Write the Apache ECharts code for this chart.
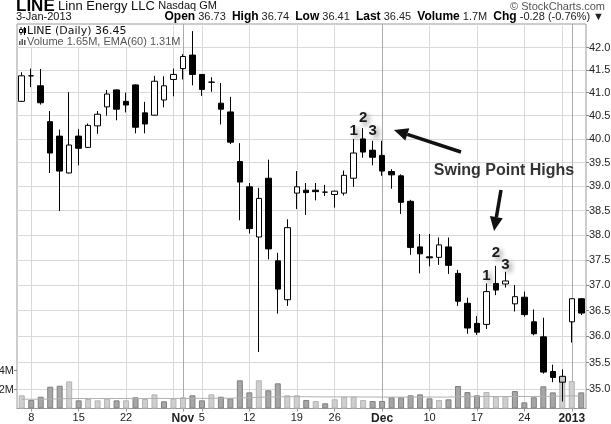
<!DOCTYPE html>
<html>
<head>
<meta charset="utf-8">
<script src="https://cdn.jsdelivr.net/npm/echarts@6/dist/echarts.min.js"></script>
<style>
  html, body { margin: 0; padding: 0; background: #fff; }
  #chart { width: 611px; height: 424px; }
</style>
</head>
<body>
<div id="chart"></div>
<script>
// LINE daily, 5 Oct 2012 - 3 Jan 2013
const dates = [
  '2012-10-05', '2012-10-08', '2012-10-09', '2012-10-10', '2012-10-11', '2012-10-12',
  '2012-10-15', '2012-10-16', '2012-10-17', '2012-10-18', '2012-10-19',
  '2012-10-22', '2012-10-23', '2012-10-24', '2012-10-25', '2012-10-26', '2012-10-31',
  '2012-11-01', '2012-11-02', '2012-11-05', '2012-11-06', '2012-11-07', '2012-11-08', '2012-11-09',
  '2012-11-12', '2012-11-13', '2012-11-14', '2012-11-15', '2012-11-16',
  '2012-11-19', '2012-11-20', '2012-11-21', '2012-11-23',
  '2012-11-26', '2012-11-27', '2012-11-28', '2012-11-29', '2012-11-30',
  '2012-12-03', '2012-12-04', '2012-12-05', '2012-12-06', '2012-12-07',
  '2012-12-10', '2012-12-11', '2012-12-12', '2012-12-13', '2012-12-14',
  '2012-12-17', '2012-12-18', '2012-12-19', '2012-12-20', '2012-12-21',
  '2012-12-24', '2012-12-26', '2012-12-27', '2012-12-28', '2012-12-31',
  '2013-01-02', '2013-01-03'
]
const open = [
  40.81, 41.37, 41.15, 40.37, 40.06, 39.28, 40.06, 39.82, 40.28, 40.69, 41.06,
  40.81, 41.17, 40.56, 40.51, 40.84, 41.29, 41.53, 41.83, 41.40, 41.23, 40.77, 40.58, 39.52,
  38.99, 37.96, 39.17, 37.48, 36.71, 38.86, 38.92, 38.92, 38.88,
  38.83, 38.86, 39.17, 40.00, 39.76, 39.65, 39.31, 39.22, 38.69, 37.76,
  37.56, 37.55, 37.76, 37.23, 36.64, 36.25, 36.23, 37.03, 37.02, 36.63,
  36.76, 36.28, 35.99, 35.33, 35.13, 36.28, 36.73
]
const close = [
  41.37, 41.37, 40.78, 39.70, 39.32, 39.87, 39.80, 40.29, 40.53, 40.97, 40.64,
  40.73, 40.25, 40.32, 41.25, 41.15, 41.40, 41.80, 41.40, 41.07, 41.23, 40.64, 39.93, 39.09,
  38.13, 38.75, 37.72, 36.92, 38.15, 38.99, 38.87, 38.89, 38.88,
  38.90, 39.23, 39.70, 39.72, 39.61, 39.32, 39.24, 38.67, 37.75, 37.62,
  37.54, 37.80, 37.39, 36.68, 36.16, 36.08, 36.87, 36.90, 37.08, 36.77,
  36.42, 36.05, 35.32, 35.22, 35.24, 36.73, 36.45
]
const low = [
  40.80, 41.12, 40.74, 39.28, 38.49, 39.27, 39.44, 39.81, 40.11, 40.50, 40.40,
  40.57, 40.12, 40.12, 40.50, 40.68, 40.92, 41.29, 41.16, 40.93, 41.02, 40.31, 39.89, 38.30,
  38.03, 35.70, 37.51, 36.44, 36.59, 38.53, 38.41, 38.71, 38.80,
  38.56, 38.81, 38.99, 39.60, 39.44, 39.22, 38.95, 38.43, 37.60, 37.23,
  37.37, 37.40, 37.22, 36.59, 36.05, 36.03, 36.14, 36.80, 36.95, 36.48,
  36.38, 36.02, 35.29, 35.13, 34.77, 35.88, 36.41
]
const high = [
  41.45, 41.53, 41.52, 40.60, 40.20, 41.01, 40.21, 40.33, 40.60, 41.06, 41.07,
  41.00, 41.18, 40.80, 41.37, 41.36, 41.53, 41.85, 42.37, 41.41, 41.34, 41.21, 40.91, 39.91,
  39.07, 38.97, 39.56, 37.64, 38.32, 39.32, 39.07, 39.07, 39.03,
  38.91, 39.33, 40.00, 40.23, 39.96, 39.96, 39.36, 39.25, 38.72, 38.02,
  38.02, 37.95, 37.95, 37.30, 36.75, 36.39, 37.03, 37.38, 37.26, 37.00,
  36.87, 36.52, 36.36, 35.46, 35.37, 36.74, 36.74
]
// volume in millions of shares
const volume = [
  1.39, 0.90, 1.24, 2.30, 2.40, 2.86, 0.86, 1.00, 0.86, 1.03, 0.86,
  0.86, 1.18, 1.00, 1.49, 0.76, 1.03, 1.18, 1.39, 0.86, 1.49, 1.24, 1.07, 2.97,
  1.70, 2.97, 1.92, 2.65, 1.39, 1.39, 0.90, 0.79, 0.55,
  0.97, 1.24, 1.24, 0.90, 0.79, 0.79, 1.18, 1.18, 1.39, 1.49,
  1.07, 0.90, 0.97, 2.37, 1.74, 1.39, 1.74, 1.28, 1.28, 1.84,
  0.65, 1.18, 2.34, 1.70, 3.35, 2.90, 1.70
]
const volumeEma = [
  0.98, 0.98, 0.98, 1.00, 1.02, 1.05, 1.05, 1.05, 1.05, 1.05, 1.05,
  1.05, 1.05, 1.05, 1.06, 1.06, 1.06, 1.06, 1.07, 1.07, 1.07, 1.08, 1.08, 1.12,
  1.14, 1.18, 1.20, 1.23, 1.24, 1.24, 1.24, 1.23, 1.22,
  1.22, 1.22, 1.22, 1.21, 1.21, 1.20, 1.20, 1.20, 1.20, 1.21,
  1.21, 1.20, 1.20, 1.24, 1.25, 1.25, 1.26, 1.26, 1.26, 1.27,
  1.26, 1.26, 1.27, 1.28, 1.31, 1.33, 1.31
]

const priceMin = 34.64
const priceMax = 42.53
const priceTicks = [35.0, 35.5, 36.0, 36.5, 37.0, 37.5, 38.0, 38.5, 39.0, 39.5, 40.0, 40.5, 41.0, 41.5, 42.0]
const volumeMax = 40.5
const volumeTicks = [2, 4]

const labelDates = ['2012-10-08', '2012-10-15', '2012-10-22', '2012-11-01', '2012-11-05', '2012-11-12',
  '2012-11-19', '2012-11-26', '2012-12-03', '2012-12-10', '2012-12-17', '2012-12-24', '2013-01-02']
const labelText = ['8', '15', '22', 'Nov', '5', '12', '19', '26', 'Dec', '10', '17', '24', '2013']
const monthLabels = ['Nov', 'Dec', '2013']
const weekStarts = ['2012-10-08', '2012-10-15', '2012-10-22', '2012-10-31', '2012-11-05', '2012-11-12',
  '2012-11-19', '2012-11-26', '2012-12-10', '2012-12-17', '2012-12-24', '2012-12-31']
const monthStarts = ['2012-11-01', '2012-12-03', '2013-01-02']
const grayCandleDate = '2012-12-31'

const swingDates = ['2012-11-28', '2012-11-29', '2012-11-30', '2012-12-18', '2012-12-19', '2012-12-20']
const swingText = ['1', '2', '3', '1', '2', '3']

const FONT = '"Liberation Sans", Arial, sans-serif'
const ln = Math.log

const candleData = dates.map((d, i) => {
  const item = { value: [ln(open[i]), ln(close[i]), ln(low[i]), ln(high[i])] }
  if (d === grayCandleDate) item.itemStyle = { color: '#c4c4c4', color0: '#c4c4c4' }
  return item
})

const volumeData = dates.map((d, i) => {
  const up = i === 0 || close[i] > close[i - 1]
  return {
    value: volume[i],
    itemStyle: up
      ? { color: '#cfcfcf', borderColor: '#b3b3b3', borderWidth: 1 }
      : { color: '#a6a6a6', borderColor: '#808080', borderWidth: 1 }
  }
})

function arrow (x1, y1, x2, y2) {
  const len = Math.hypot(x2 - x1, y2 - y1)
  const dx = (x2 - x1) / len
  const dy = (y2 - y1) / len
  const bx = x2 - dx * 14
  const by = y2 - dy * 14
  return [
    { type: 'line', shape: { x1: x1, y1: y1, x2: bx, y2: by }, style: { stroke: '#111', lineWidth: 3.5 }, z: 50 },
    {
      type: 'polygon',
      shape: { points: [[x2, y2], [bx - dy * 6.5, by + dx * 6.5], [bx + dy * 6.5, by - dx * 6.5]] },
      style: { fill: '#111' },
      z: 50
    }
  ]
}

function txt (x, y, text, font, fill, align) {
  return {
    type: 'text', x: x, y: y, z: 50,
    style: { text: text, font: font, fill: fill, align: align || 'left', textAlign: align || 'left', verticalAlign: 'middle', textVerticalAlign: 'middle' }
  }
}

const chart = echarts.init(document.getElementById('chart'))

chart.setOption({
  animation: false,
  backgroundColor: '#fff',
  textStyle: { fontFamily: FONT },
  grid: {
    left: 17, right: 25, top: 24, bottom: 15.5,
    show: true, borderColor: '#9a9a9a', borderWidth: 1,
    outerBoundsMode: 'none'
  },
  xAxis: [
    {
      type: 'category',
      data: dates,
      boundaryGap: true,
      axisLine: { lineStyle: { color: '#9a9a9a' } },
      axisTick: {
        show: true, alignWithLabel: true, length: 3,
        interval: (i, v) => labelDates.includes(v),
        lineStyle: { color: '#999' }
      },
      axisLabel: {
        interval: (i, v) => labelDates.includes(v),
        formatter: v => {
          const t = labelText[labelDates.indexOf(v)]
          return monthLabels.includes(t) ? '{m|' + t + '}' : t
        },
        color: '#222', fontSize: 11, margin: 4,
        rich: { m: { fontWeight: 'bold', fontSize: 12, color: '#222' } }
      },
      splitLine: {
        show: true, alignWithLabel: true,
        interval: (i, v) => weekStarts.includes(v),
        lineStyle: { color: '#d9d9d9' }
      }
    },
    {
      type: 'category',
      data: dates,
      boundaryGap: true,
      position: 'top',
      axisLine: { show: false },
      axisTick: { show: false },
      axisLabel: { show: false },
      splitLine: {
        show: true, alignWithLabel: true,
        interval: (i, v) => monthStarts.includes(v),
        lineStyle: { color: '#ababab' }
      }
    }
  ],
  yAxis: [
    {
      type: 'value',
      position: 'right',
      min: ln(priceMin),
      max: ln(priceMax),
      axisLine: { show: false },
      axisTick: { show: true, customValues: priceTicks.map(ln), length: 3, lineStyle: { color: '#888' } },
      axisLabel: {
        customValues: priceTicks.map(ln),
        formatter: v => Math.exp(v).toFixed(1),
        color: '#222', fontSize: 11, margin: 3
      },
      splitLine: { show: true, lineStyle: { color: '#d9d9d9' } }
    },
    {
      type: 'value',
      position: 'left',
      min: 0,
      max: volumeMax,
      axisLine: { show: false },
      axisTick: { show: true, customValues: volumeTicks, length: 3, lineStyle: { color: '#888' } },
      axisLabel: {
        customValues: volumeTicks,
        formatter: v => v + 'M',
        color: '#222', fontSize: 11, margin: 3
      },
      splitLine: { show: false }
    }
  ],
  series: [
    {
      name: 'Volume',
      type: 'bar',
      xAxisIndex: 0,
      yAxisIndex: 1,
      barWidth: 6,
      data: volumeData,
      z: 2
    },
    {
      name: 'EMA(60)',
      type: 'line',
      xAxisIndex: 0,
      yAxisIndex: 1,
      data: volumeEma,
      symbol: 'none',
      lineStyle: { color: '#b0b0b0', width: 1 },
      z: 3
    },
    {
      name: 'LINE',
      type: 'candlestick',
      xAxisIndex: 0,
      yAxisIndex: 0,
      barWidth: 6,
      data: candleData,
      itemStyle: {
        color: '#fff', color0: '#000',
        borderColor: '#000', borderColor0: '#000', borderColorDoji: '#000',
        borderWidth: 1
      },
      z: 4
    }
  ]
})

// annotations: swing point numbers sit just above each candle's high
const swingLift = [8, 10, 10, 8, 13, 7]
const swingGraphics = swingDates.map((d, k) => {
  const i = dates.indexOf(d)
  const p = chart.convertToPixel({ xAxisIndex: 0, yAxisIndex: 0 }, [d, ln(high[i])])
  return {
    type: 'text', x: p[0], y: p[1] - swingLift[k], z: 50,
    style: {
      text: swingText[k], font: 'bold 15px ' + FONT, fill: '#1a1a1a',
      align: 'center', textAlign: 'center', verticalAlign: 'middle', textVerticalAlign: 'middle',
      textShadowColor: 'rgba(0,0,0,0.45)', textShadowBlur: 5, textShadowOffsetX: 3, textShadowOffsetY: 3
    }
  }
})

chart.setOption({
  graphic: [
    // header
    {
      type: 'text', x: 16, y: 6, z: 50,
      style: {
        text: '{a|LINE} {b|Linn Energy LLC} {c|Nasdaq GM}',
        verticalAlign: 'middle', textVerticalAlign: 'middle',
        rich: {
          a: { font: 'bold 17px ' + FONT, fill: '#000' },
          b: { font: '13px ' + FONT, fill: '#111' },
          c: { font: '11px ' + FONT, fill: '#111' }
        }
      }
    },
    txt(605, 7, '\u00A9 StockCharts.com', '11px ' + FONT, '#555', 'right'),
    txt(16, 17, '3-Jan-2013', '11px ' + FONT, '#111'),
    {
      type: 'text', x: 604, y: 17, z: 50,
      style: {
        text: '{b|Open} 36.73  {b|High} 36.74  {b|Low} 36.41  {b|Last} 36.45  {b|Volume} 1.7M  {b|Chg} -0.28 (-0.76%) \u25BC',
        font: '11px ' + FONT, fill: '#222',
        align: 'right', textAlign: 'right', verticalAlign: 'middle', textVerticalAlign: 'middle',
        rich: { b: { font: 'bold 12px ' + FONT, fill: '#000' } }
      }
    },
    // legend box inside the plot
    { type: 'rect', shape: { x: 18, y: 25, width: 150, height: 22 }, style: { fill: '#fff' }, z: 10 },
    { type: 'line', shape: { x1: 21, y1: 27, x2: 21, y2: 35 }, style: { stroke: '#000', lineWidth: 1 }, z: 11 },
    { type: 'rect', shape: { x: 19.5, y: 29.5, width: 3, height: 3 }, style: { fill: '#fff', stroke: '#000', lineWidth: 1 }, z: 12 },
    { type: 'line', shape: { x1: 24.5, y1: 27, x2: 24.5, y2: 35 }, style: { stroke: '#000', lineWidth: 1 }, z: 11 },
    { type: 'rect', shape: { x: 23.5, y: 28, width: 2.5, height: 5 }, style: { fill: '#000' }, z: 12 },
    txt(27, 31, 'LINE (Daily) 36.45', '11px "DejaVu Sans", sans-serif', '#111'),
    { type: 'rect', shape: { x: 19, y: 41, width: 1.5, height: 4 }, style: { fill: '#555' }, z: 12 },
    { type: 'rect', shape: { x: 21.5, y: 39, width: 1.5, height: 6 }, style: { fill: '#555' }, z: 12 },
    { type: 'rect', shape: { x: 24, y: 40, width: 1.5, height: 5 }, style: { fill: '#555' }, z: 12 },
    txt(27, 42, 'Volume 1.65M, EMA(60) 1.31M', '11px ' + FONT, '#555'),
    // swing point annotations
    txt(504, 171, 'Swing Point Highs', 'bold 16px ' + FONT, '#333', 'center'),
    ...arrow(461, 152, 394, 130),
    ...arrow(501, 190, 494, 231),
    ...swingGraphics
  ]
})
</script>
</body>
</html>
